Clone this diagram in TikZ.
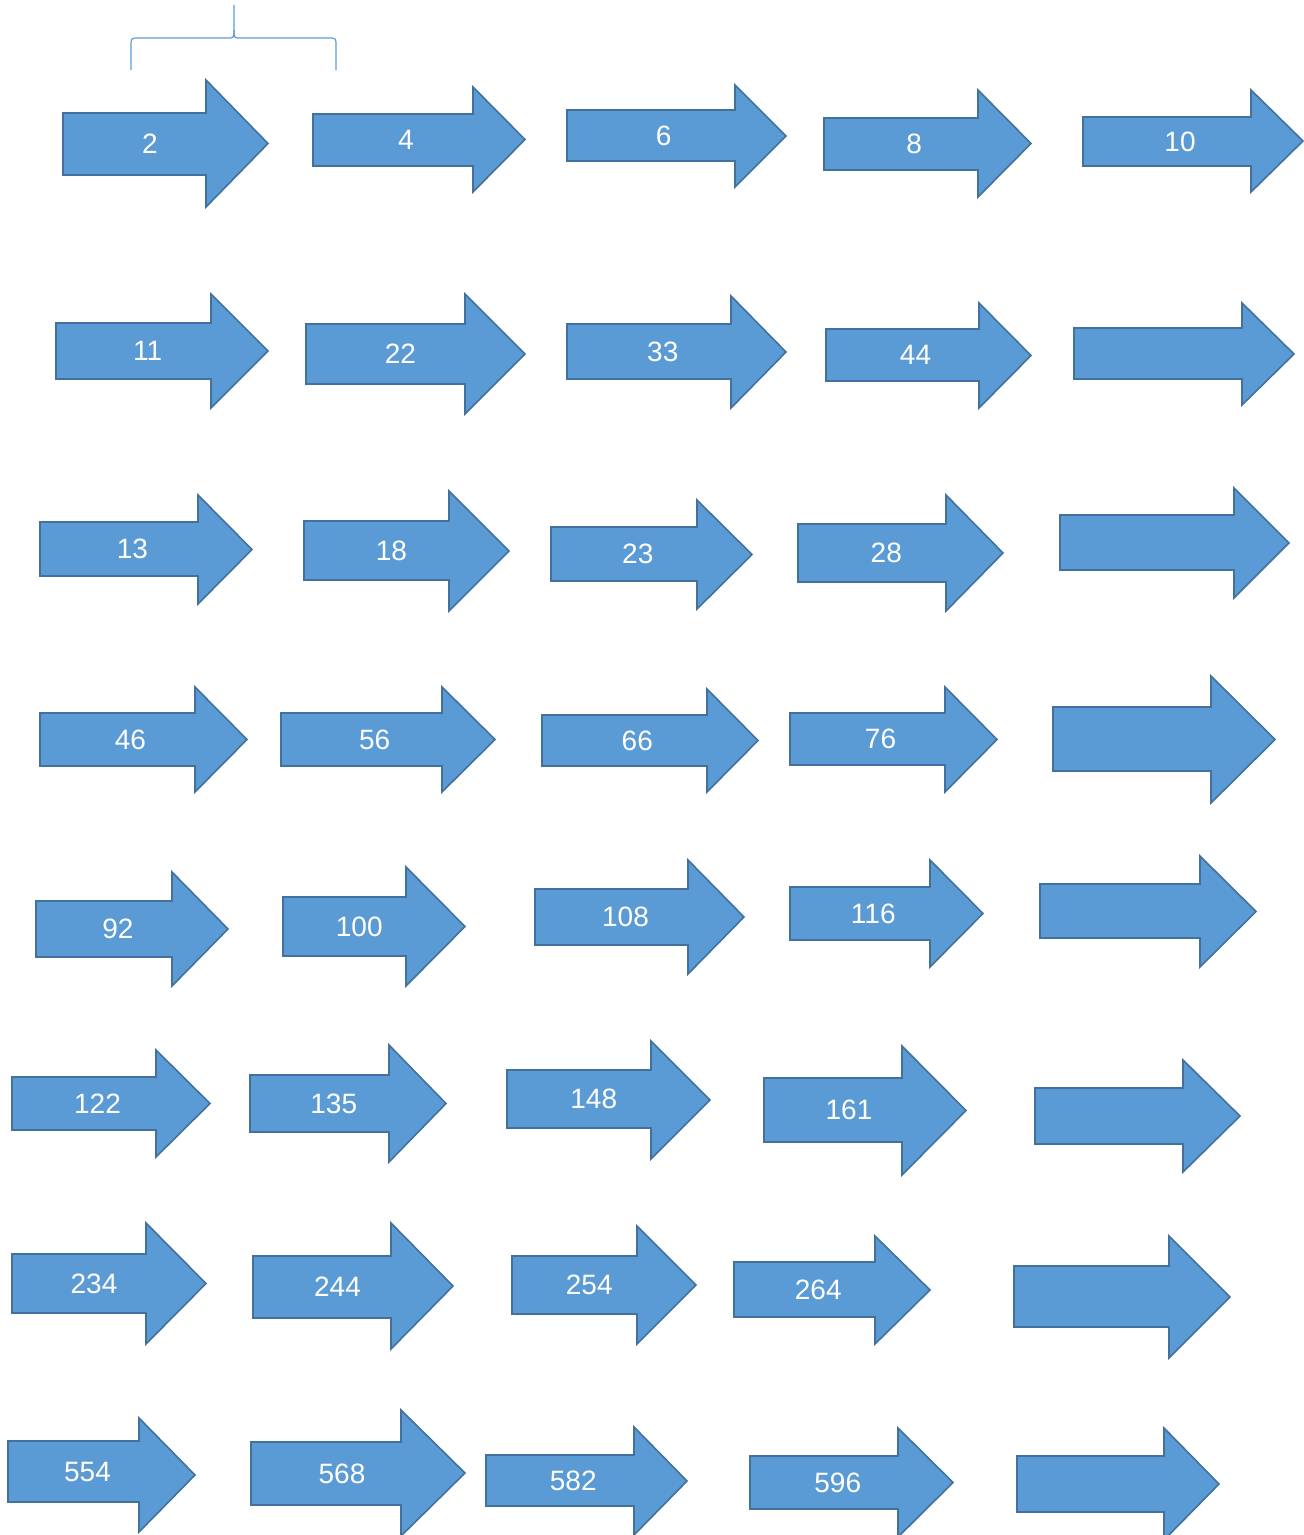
\documentclass[tikz,border=0pt]{standalone}
\usepackage{fontspec}
\setmainfont{Liberation Sans}
\usepackage{xcolor}
\usepackage{tikz}
\definecolor{arrfill}{HTML}{5B9BD5}
\definecolor{arrline}{HTML}{41719C}

% block arrow: name, left, shaft top, shaft bottom, head x, head top, head bottom, tip x, label
\newcommand{\blockarrow}[9]{%
  \pgfmathsetmacro{\tipy}{(#6+#7)/2}%
  \pgfmathsetmacro{\midy}{(#3+#4)/2}%
  \pgfmathsetmacro{\lblx}{(#2+(#5+#8)/2)/2}%
  \draw[blockarr] (#2,#3) -- (#5,#3) -- (#5,#6) -- (#8,\tipy) -- (#5,#7) -- (#5,#4) -- (#2,#4) -- cycle;
  \node[numlbl] (#1) at (\lblx,\midy) {#9};%
}

\begin{document}
\begin{tikzpicture}[
  x=1pt, y=-1pt,
  blockarr/.style={fill=arrfill, draw=arrline, line width=1.6pt, line join=miter},
  numlbl/.style={text=white, font=\fontsize{28}{32}\selectfont, inner sep=0pt},
  bracket/.style={draw=arrfill, line width=1.2pt}
]
\useasboundingbox (0,0) rectangle (1304,1535);
\clip (0,0) rectangle (1304,1535);

% Brace
\draw[bracket] (131,70) -- (131,46) .. controls (131,38) .. (139,38) -- (227,38) .. controls (234,38) .. (234,30) -- (234,5);
\draw[bracket] (336,70) -- (336,46) .. controls (336,38) .. (328,38) -- (241,38) .. controls (234,38) .. (234,30);

% Row 1
\blockarrow{a2}{63}{113}{175}{206}{80}{207}{268}{2}
\blockarrow{a4}{313}{114}{166}{473}{87}{192}{525}{4}
\blockarrow{a6}{567}{110}{161}{735}{85}{187}{786}{6}
\blockarrow{a8}{824}{118}{170}{978}{90}{197}{1031}{8}
\blockarrow{a10}{1083}{117}{166}{1251}{90}{192}{1303}{10}

% Row 2
\blockarrow{a11}{56}{323}{379}{211}{294}{408}{268}{11}
\blockarrow{a22}{306}{324}{384}{465}{294}{414}{525}{22}
\blockarrow{a33}{567}{324}{379}{731}{296}{408}{786}{33}
\blockarrow{a44}{826}{329}{381}{979}{303}{408}{1031}{44}
\blockarrow{b2}{1074}{328}{379}{1242}{303}{405}{1294}{}

% Row 3
\blockarrow{a13}{40}{522}{576}{198}{495}{604}{252}{13}
\blockarrow{a18}{304}{521}{580}{449}{491}{611}{509}{18}
\blockarrow{a23}{551}{527}{581}{697}{500}{609}{752}{23}
\blockarrow{a28}{798}{524}{582}{946}{495}{611}{1003}{28}
\blockarrow{b3}{1060}{515}{570}{1234}{488}{598}{1289}{}

% Row 4
\blockarrow{a46}{40}{713}{766}{195}{687}{792}{247}{46}
\blockarrow{a56}{281}{713}{766}{442}{687}{792}{495}{56}
\blockarrow{a66}{542}{715}{766}{707}{689}{792}{758}{66}
\blockarrow{a76}{790}{713}{765}{945}{687}{792}{997}{76}
\blockarrow{b4}{1053}{707}{771}{1211}{676}{803}{1275}{}

% Row 5
\blockarrow{a92}{36}{901}{957}{172}{872}{986}{228}{92}
\blockarrow{a100}{283}{897}{956}{406}{867}{986}{465}{100}
\blockarrow{a108}{535}{889}{945}{688}{860}{974}{744}{108}
\blockarrow{a116}{790}{887}{940}{930}{860}{967}{983}{116}
\blockarrow{b5}{1040}{884}{938}{1200}{856}{967}{1256}{}

% Row 6
\blockarrow{a122}{12}{1077}{1130}{156}{1050}{1157}{210}{122}
\blockarrow{a135}{250}{1075}{1132}{389}{1045}{1162}{446}{135}
\blockarrow{a148}{507}{1070}{1128}{651}{1041}{1159}{710}{148}
\blockarrow{a161}{764}{1078}{1142}{902}{1046}{1175}{966}{161}
\blockarrow{b6}{1035}{1088}{1144}{1183}{1060}{1172}{1240}{}

% Row 7
\blockarrow{a234}{12}{1254}{1313}{146}{1223}{1344}{206}{234}
\blockarrow{a244}{253}{1256}{1318}{391}{1223}{1349}{453}{244}
\blockarrow{a254}{512}{1256}{1314}{637}{1226}{1344}{696}{254}
\blockarrow{a264}{734}{1262}{1317}{875}{1236}{1344}{930}{264}
\blockarrow{b7}{1014}{1266}{1327}{1169}{1236}{1358}{1230}{}

% Row 8
\blockarrow{a554}{8}{1441}{1502}{139}{1418}{1532}{195}{554}
\blockarrow{a568}{251}{1442}{1505}{401}{1410}{1536}{465}{568}
\blockarrow{a582}{486}{1455}{1506}{634}{1427}{1535}{687}{582}
\blockarrow{a596}{750}{1456}{1509}{898}{1428}{1537}{953}{596}
\blockarrow{b8}{1017}{1456}{1512}{1164}{1428}{1540}{1219}{}

\end{tikzpicture}
\end{document}
